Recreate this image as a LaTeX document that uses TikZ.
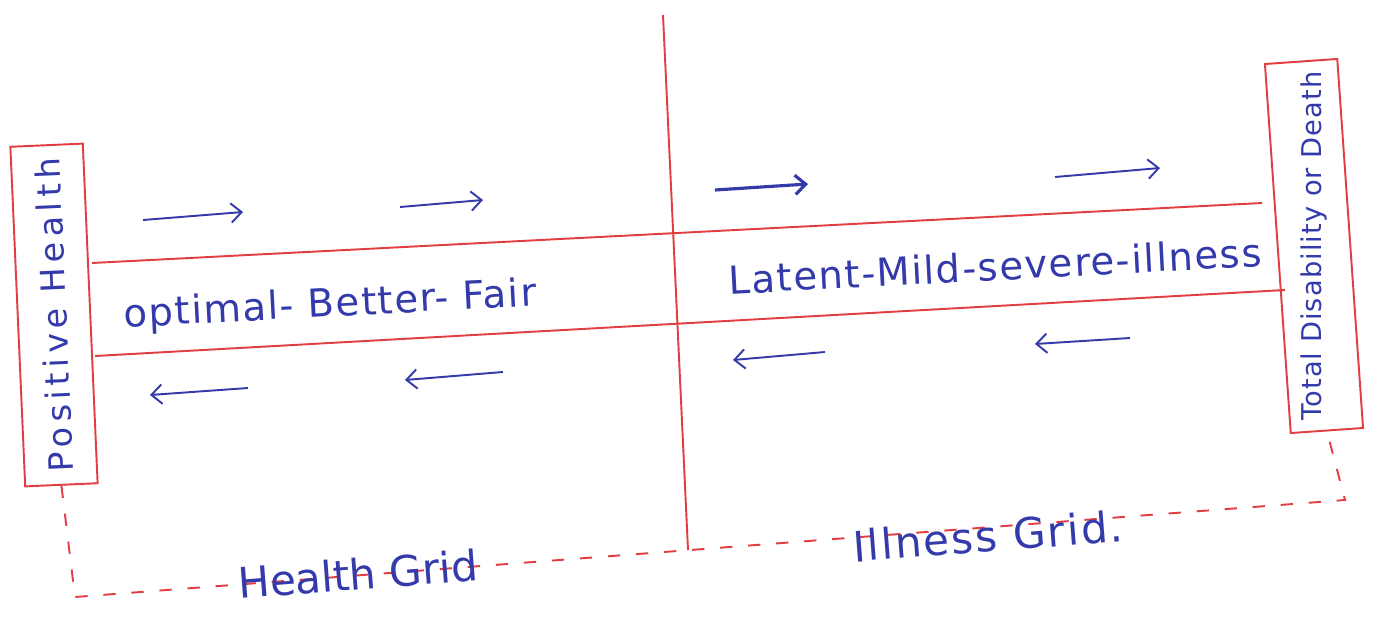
\documentclass[tikz,border=0pt]{standalone}
\usepackage{fontspec}
\setsansfont{DejaVu Sans}
\usepackage{tikz}
\usetikzlibrary{arrows.meta}
\definecolor{penred}{RGB}{226,62,66}
\definecolor{penblue}{RGB}{52,58,170}

\begin{document}
\begin{tikzpicture}[x=0.02cm, y=-0.02cm,
  redline/.style={draw=penred, line width=1.1pt},
  gridline/.style={draw=penred, line width=1.1pt, dash pattern=on 7pt off 9pt},
  penarrow/.style={-{Straight Barb[length=6pt, width=11pt]}, draw=penblue, line width=1.1pt},
  handtext/.style={text=penblue, font=\sffamily\fontsize{22}{26}\selectfont\addfontfeatures{LetterSpace=4}},
  endbox/.style={draw=penred, line width=1.1pt, fill=white, inner sep=0pt}]
  \useasboundingbox (0,0) rectangle (1377,619);
  % ---------- end boxes ----------
  \node[endbox, handtext, rotate=92.5, minimum width=6.8cm, minimum height=1.45cm,
    font=\sffamily\fontsize{19}{22}\selectfont\addfontfeatures{LetterSpace=15}]
    (pos) at (54,315) {Positive Health};
  \node[endbox, rotate=94, minimum width=7.4cm, minimum height=1.45cm]
    (death) at (1314,246) {};
  \node[handtext, rotate=90, inner sep=0pt,
    font=\sffamily\fontsize{15.5}{19}\selectfont\addfontfeatures{LetterSpace=4}]
    (deathtxt) at (death.center) {Total Disability or Death};
  % ---------- band ----------
  \coordinate (bandUL) at (92,263);
  \coordinate (bandUR) at (1262,203);
  \coordinate (bandLL) at (95,356);
  \coordinate (bandLR) at (1285,290);
  \draw[redline] (bandUL) -- (bandUR);
  \draw[redline] (bandLL) -- (bandLR);
  \coordinate (divtop) at (663,15);
  \coordinate (divbot) at (688,550);
  \draw[redline] (divtop) -- (divbot);
  \node[handtext, rotate=3] (goodtxt) at (330,306) {optimal- Better- Fair};
  \node[handtext, rotate=3] (badtxt) at (995,266) {Latent-Mild-severe-illness};
  % ---------- arrows ----------
  \draw[penarrow] (143,220) -- (243,212);
  \draw[penarrow] (400,207) -- (483,200);
  \draw[penarrow, line width=1.8pt] (715,190) -- (808,184);
  \draw[penarrow] (1055,177) -- (1160,168);
  \draw[penarrow] (248,388) -- (150,395);
  \draw[penarrow] (503,372) -- (405,380);
  \draw[penarrow] (825,352) -- (733,360);
  \draw[penarrow] (1130,338) -- (1035,344);
  % ---------- grids ----------
  \coordinate (gridL) at (75,597);
  \coordinate (gridR) at (1345,500);
  \draw[gridline] (pos.west) -- (gridL) -- (gridR) -- (death.west);
  \node[handtext, rotate=4.4, font=\sffamily\fontsize{24}{28}\selectfont]
    (healthgrid) at (358,574) {Health Grid};
  \node[handtext, rotate=4.4, font=\sffamily\fontsize{24}{28}\selectfont\addfontfeatures{LetterSpace=5}]
    (illgrid) at (988,536) {Illness Grid.};
\end{tikzpicture}
\end{document}
